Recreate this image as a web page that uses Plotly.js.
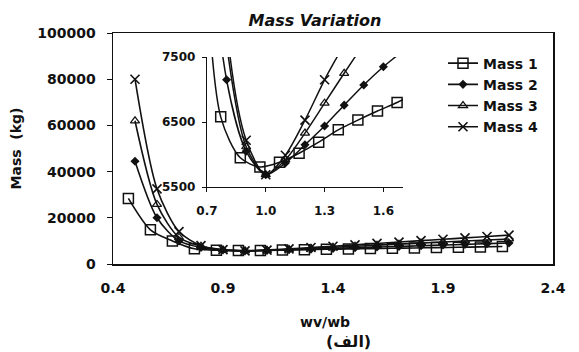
<!DOCTYPE html>
<html>
<head>
<meta charset="utf-8">
<script src="https://cdn.plot.ly/plotly-3.0.1.min.js"></script>
<style>html,body{margin:0;padding:0;background:#fff;}#chart{width:579px;height:352px;}</style>
</head>
<body>
<div id="chart"></div>
<script>
// Data
const xVals  = [0.5, 0.6, 0.7, 0.8, 0.9, 1.0, 1.1, 1.2, 1.3, 1.4, 1.5, 1.6, 1.7, 1.8, 1.9, 2.0, 2.1, 2.2];
const xMass1 = [0.47, 0.57, 0.67, 0.77, 0.87, 0.97, 1.07, 1.17, 1.27, 1.37, 1.47, 1.57, 1.67, 1.77, 1.87, 1.97, 2.07, 2.17];
const mass1 = [28400, 14800, 10000, 6580, 5950, 5810, 5880, 6020, 6190, 6380, 6530, 6670, 6800, 6950, 7100, 7250, 7400, 7550];
const mass2 = [44500, 20000, 10000, 7150, 6050, 5690, 5870, 6150, 6440, 6760, 7070, 7350, 7600, 7900, 8200, 8500, 8800, 9100];
const mass3 = [62000, 25800, 11500, 7700, 6120, 5690, 5920, 6330, 6790, 7250, 7700, 8150, 8600, 9050, 9500, 9950, 10400, 10850];
const mass4 = [80000, 32500, 14000, 7950, 6220, 5690, 5990, 6530, 7150, 7700, 8300, 8900, 9500, 10100, 10700, 11300, 11900, 12500];
const seriesNames = ['Mass 1', 'Mass 2', 'Mass 3', 'Mass 4'];
const mainXTicks = [0.4, 0.9, 1.4, 1.9, 2.4];
const insetXTicks = [0.7, 1.0, 1.3, 1.6];

const FONT = 'DejaVu Sans, Liberation Sans, Arial, sans-serif';
const series = [
  {name: seriesNames[0], x: xMass1, y: mass1, marker: {symbol: 'square-open', size: 10, color: '#111', line: {width: 1.5, color: '#111'}}},
  {name: seriesNames[1], x: xVals, y: mass2, marker: {symbol: 'diamond', size: 7, color: '#111'}},
  {name: seriesNames[2], x: xVals, y: mass3, marker: {symbol: 'triangle-up-open', size: 8, color: '#111', line: {width: 1.2, color: '#111'}}},
  {name: seriesNames[3], x: xVals, y: mass4, marker: {symbol: 'x-thin-open', size: 9, color: '#111', line: {width: 1.6, color: '#111'}}}
];

const traces = [];
series.forEach((s, i) => {
  traces.push({
    type: 'scatter', mode: 'lines+markers', name: s.name, x: s.x, y: s.y,
    xaxis: 'x', yaxis: 'y',
    line: {color: '#111', width: 1.6, shape: 'spline', smoothing: 0.8},
    marker: s.marker, cliponaxis: true
  });
});
series.forEach((s, i) => {
  traces.push({
    type: 'scatter', mode: 'lines+markers', name: s.name, x: s.x, y: s.y,
    xaxis: 'x2', yaxis: 'y2', showlegend: false,
    line: {color: '#111', width: 1.5, shape: 'spline', smoothing: 0.8},
    marker: s.marker, cliponaxis: true
  });
});

const layout = {
  width: 579, height: 352,
  paper_bgcolor: '#ffffff', plot_bgcolor: 'rgba(0,0,0,0)',
  margin: {l: 113, r: 26, t: 33, b: 88},
  font: {family: FONT, color: '#111', size: 14, weight: 'bold'},
  title: {text: '<b><i>Mass Variation</i></b>', x: 315 / 579, xref: 'container', xanchor: 'center',
          y: 1 - 20 / 352, yref: 'container', yanchor: 'middle',
          font: {family: FONT, size: 16, color: '#111'}},
  showlegend: true,
  legend: {x: 0.75, y: 0.937, xanchor: 'left', yanchor: 'top', bgcolor: 'rgba(0,0,0,0)',
           font: {family: FONT, size: 14, color: '#111', weight: 'bold'}, tracegroupgap: 0},
  xaxis: {domain: [0, 1], range: [0.4, 2.4], tickvals: mainXTicks, tickformat: '.1f',
          showline: true, mirror: true, linecolor: '#111', linewidth: 1.5, showgrid: false, zeroline: false,
          ticks: '', ticklabelstandoff: 11, tickfont: {family: FONT, size: 14, weight: 'bold'}},
  yaxis: {domain: [0, 1], range: [0, 100000], dtick: 20000, tickformat: 'd',
          showline: true, mirror: true, linecolor: '#111', linewidth: 1.5, showgrid: false, zeroline: false,
          ticks: 'outside', ticklen: 5, tickcolor: '#111', ticklabelstandoff: 8,
          tickfont: {family: FONT, size: 14, weight: 'bold'},
          title: {text: 'Mass\u00A0\u00A0(kg)', standoff: 12, font: {family: FONT, size: 14, weight: 'bold'}}},
  xaxis2: {domain: [0.2136, 0.659], anchor: 'y2', range: [0.7, 1.7], tickvals: insetXTicks, tickformat: '.1f',
           showline: true, linecolor: '#111', linewidth: 1.2, showgrid: false, zeroline: false,
           ticks: 'outside', ticklen: 4, tickcolor: '#111', ticklabelstandoff: 8,
           tickfont: {family: FONT, size: 12, weight: 'bold'}},
  yaxis2: {domain: [0.333, 0.896], anchor: 'x2', range: [5500, 7500], tick0: 5500, dtick: 1000, tickformat: 'd',
           showline: true, linecolor: '#111', linewidth: 1.2, showgrid: false, zeroline: false,
           ticks: 'outside', ticklen: 4, tickcolor: '#111', ticklabelstandoff: 4,
           tickfont: {family: FONT, size: 12, weight: 'bold'}},
  annotations: [
    {text: '<b>wv/wb</b>', xref: 'paper', yref: 'paper', x: (325 - 113) / 440, y: -(322 - 264) / 231,
     xanchor: 'center', yanchor: 'middle', showarrow: false, font: {family: FONT, size: 14, color: '#111'}},
    {text: '(الف)', xref: 'paper', yref: 'paper', x: (348 - 113) / 440, y: -(341 - 264) / 231,
     xanchor: 'center', yanchor: 'middle', showarrow: false, font: {family: 'DejaVu Sans, sans-serif', size: 16, color: '#111', weight: 'bold'}}
  ]
};

Plotly.newPlot('chart', traces, layout, {staticPlot: true, displayModeBar: false});
</script>
</body>
</html>
